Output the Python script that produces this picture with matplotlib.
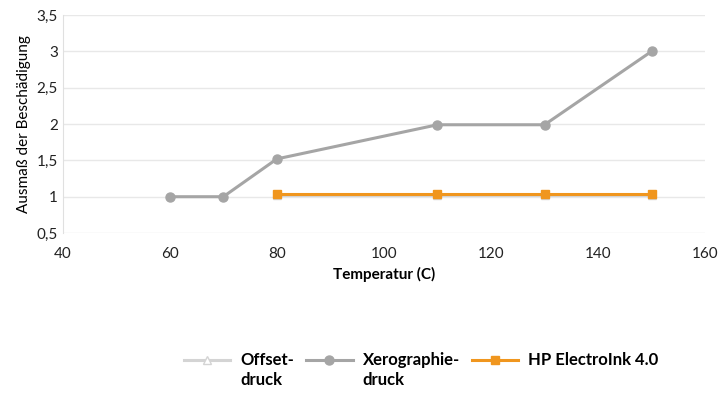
import matplotlib.pyplot as plt
from matplotlib.legend_handler import HandlerLine2D
from matplotlib.transforms import Affine2D

plt.rcParams['font.family'] = ['Lato', 'DejaVu Sans']

# Daten
temp_offset = [80, 110, 130, 150]
offset = [1.03, 1.03, 1.03, 1.03]
temp_xero = [60, 70, 80, 110, 130, 150]
xero = [1.0, 1.0, 1.52, 1.99, 1.99, 3.0]
temp_hp = [80, 110, 130, 150]
hp = [1.04, 1.04, 1.04, 1.04]

yticks = [0.5, 1, 1.5, 2, 2.5, 3, 3.5]
ylabels = ['0,5', '1', '1,5', '2', '2,5', '3', '3,5']
xticks = [40, 60, 80, 100, 120, 140, 160]


class TopHandler(HandlerLine2D):
    # Symbol auf Höhe der ersten Textzeile
    def __init__(self, shift, **kw):
        super().__init__(**kw)
        self.shift = shift

    def create_artists(self, legend, orig_handle, xdescent, ydescent,
                       width, height, fontsize, trans):
        arts = super().create_artists(legend, orig_handle, xdescent, ydescent,
                                      width, height, fontsize, trans)
        t = Affine2D().translate(0, self.shift) + trans
        for a in arts:
            a.set_transform(t)
        return arts


fig = plt.figure(figsize=(7.21, 3.95), dpi=100)
ax = fig.add_axes([0.087, 0.41, 0.891, 0.552])

l1, = ax.plot(temp_offset, offset, color='#d4d4d4', lw=2.2, marker='^', ms=6,
              mfc='white', mec='#d4d4d4', label='Offset-\ndruck')
l2, = ax.plot(temp_xero, xero, color='#a5a5a5', lw=2.2, marker='o', ms=6.5,
              label='Xerographie-\ndruck')
l3, = ax.plot(temp_hp, hp, color='#f0961e', lw=2.2, marker='s', ms=6,
              label='HP ElectroInk 4.0\n ')

ax.set_xlim(40, 160)
ax.set_ylim(0.5, 3.5)
ax.set_xticks(xticks)
ax.set_yticks(yticks)
ax.set_yticklabels(ylabels)
ax.tick_params(length=0, labelsize=11, colors='#222222')
ax.tick_params(axis='x', pad=10)
ax.grid(axis='y', color='#e8e8e8', lw=1)
ax.set_axisbelow(True)
for s in ['top', 'right', 'bottom']:
    ax.spines[s].set_visible(False)
ax.spines['left'].set_color('#e0e0e0')

ax.set_xlabel('Temperatur (C)', fontsize=11, fontweight='bold', labelpad=4)
ax.set_ylabel('Ausmaß der Beschädigung', fontsize=11, labelpad=4)

sh = 7.5
leg = fig.legend(handles=[l1, l2, l3], loc='center',
                 bbox_to_anchor=(0.584, 0.063), ncol=3,
                 frameon=False, handlelength=2.8, columnspacing=0.7,
                 handletextpad=0.6, prop={'weight': 'bold', 'size': 12},
                 handler_map={l1: TopHandler(sh), l2: TopHandler(sh),
                              l3: TopHandler(sh)})
for t in leg.get_texts():
    t.set_linespacing(1.35)

fig.savefig('out.png', dpi=100)
